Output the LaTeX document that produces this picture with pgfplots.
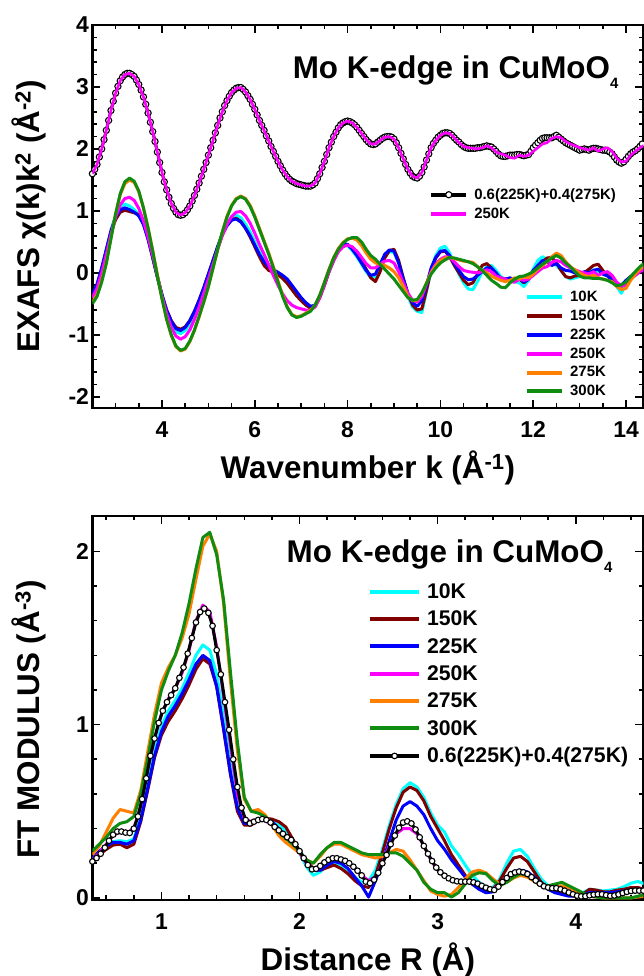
\documentclass[border=0pt]{standalone}
\usepackage{fontspec}
\setmainfont{Liberation Sans}
\usepackage{pgfplots}
\usepackage{pgfplotstable}
\pgfplotsset{compat=1.18}

\definecolor{cCyan}{HTML}{00FFFF}
\definecolor{cBrown}{HTML}{800000}
\definecolor{cBlue}{HTML}{0000FF}
\definecolor{cMag}{HTML}{FF00FF}
\definecolor{cOrange}{HTML}{FF8000}
\definecolor{cGreen}{HTML}{108C10}

\newcommand{\fs}[1]{\fontsize{#1}{#1}\selectfont\bfseries}
\newcommand{\sub}[1]{\raisebox{-10bp}{\fontsize{15}{15}\selectfont #1}}

% chi(k)k^2 ; u250 is the 250K curve shifted by +2
\pgfplotstableread{
k t10 t150 t225 t250 t275 t300 u250
2.5 -0.40 -0.38 -0.35 -0.40 -0.47 -0.50 1.60
2.6 -0.22 -0.20 -0.18 -0.25 -0.35 -0.38 1.75
2.7 0.05 0.06 0.08 0.00 -0.12 -0.15 2.00
2.8 0.36 0.36 0.38 0.30 0.18 0.15 2.30
2.9 0.68 0.65 0.68 0.62 0.57 0.55 2.62
3.0 0.93 0.86 0.90 0.90 0.95 0.95 2.90
3.1 1.07 0.98 1.02 1.10 1.26 1.28 3.10
3.2 1.11 1.01 1.05 1.20 1.44 1.47 3.20
3.3 1.08 0.99 1.02 1.22 1.50 1.53 3.22
3.4 1.02 0.97 0.98 1.17 1.46 1.48 3.17
3.5 0.94 0.94 0.92 1.04 1.31 1.32 3.04
3.6 0.80 0.80 0.78 0.84 1.05 1.05 2.84
3.7 0.56 0.55 0.54 0.58 0.73 0.72 2.58
3.8 0.26 0.24 0.25 0.28 0.36 0.35 2.28
3.9 -0.06 -0.07 -0.06 -0.05 -0.03 -0.05 1.95
4.0 -0.37 -0.36 -0.35 -0.38 -0.41 -0.42 1.62
4.1 -0.64 -0.60 -0.60 -0.66 -0.75 -0.75 1.34
4.2 -0.83 -0.77 -0.78 -0.88 -1.01 -1.00 1.12
4.3 -0.95 -0.88 -0.90 -1.02 -1.19 -1.18 0.98
4.4 -0.98 -0.91 -0.93 -1.07 -1.26 -1.25 0.93
4.5 -0.93 -0.87 -0.88 -1.03 -1.23 -1.22 0.97
4.6 -0.82 -0.77 -0.77 -0.92 -1.11 -1.10 1.08
4.7 -0.66 -0.62 -0.62 -0.75 -0.93 -0.92 1.25
4.8 -0.47 -0.44 -0.44 -0.55 -0.71 -0.70 1.45
4.9 -0.26 -0.24 -0.24 -0.33 -0.47 -0.47 1.67
5.0 -0.03 -0.02 -0.02 -0.10 -0.22 -0.22 1.90
5.1 0.20 0.20 0.20 0.14 0.08 0.08 2.14
5.2 0.43 0.42 0.42 0.38 0.38 0.38 2.38
5.3 0.64 0.62 0.62 0.60 0.66 0.66 2.60
5.4 0.80 0.77 0.76 0.78 0.91 0.90 2.78
5.5 0.90 0.86 0.85 0.91 1.09 1.08 2.91
5.6 0.93 0.88 0.87 0.98 1.20 1.19 2.98
5.7 0.89 0.83 0.82 0.99 1.24 1.23 2.99
5.8 0.79 0.72 0.72 0.92 1.20 1.19 2.92
5.9 0.66 0.58 0.60 0.80 1.09 1.07 2.80
6.0 0.50 0.42 0.45 0.64 0.92 0.90 2.64
6.1 0.34 0.26 0.30 0.46 0.72 0.70 2.46
6.2 0.20 0.12 0.18 0.30 0.52 0.50 2.30
6.3 0.10 0.04 0.10 0.13 0.32 0.30 2.13
6.4 0.04 0.01 0.05 -0.04 0.10 0.08 1.96
6.5 -0.02 -0.03 0.01 -0.20 -0.13 -0.15 1.80
6.6 -0.08 -0.09 -0.04 -0.34 -0.36 -0.38 1.66
6.7 -0.16 -0.17 -0.10 -0.45 -0.55 -0.56 1.55
6.8 -0.26 -0.27 -0.20 -0.52 -0.67 -0.68 1.48
6.9 -0.36 -0.37 -0.30 -0.56 -0.71 -0.72 1.44
7.0 -0.44 -0.45 -0.40 -0.58 -0.69 -0.70 1.42
7.1 -0.51 -0.52 -0.48 -0.60 -0.65 -0.66 1.40
7.2 -0.56 -0.57 -0.54 -0.60 -0.60 -0.62 1.40
7.3 -0.52 -0.54 -0.52 -0.55 -0.52 -0.52 1.45
7.4 -0.38 -0.40 -0.38 -0.40 -0.36 -0.36 1.60
7.5 -0.18 -0.20 -0.18 -0.20 -0.15 -0.16 1.80
7.6 0.04 0.02 0.04 0.02 0.06 0.05 2.02
7.7 0.22 0.20 0.22 0.20 0.25 0.24 2.20
7.8 0.37 0.36 0.38 0.34 0.39 0.38 2.34
7.9 0.45 0.45 0.47 0.42 0.49 0.48 2.42
8.0 0.44 0.45 0.46 0.45 0.55 0.54 2.45
8.1 0.36 0.40 0.38 0.42 0.56 0.57 2.42
8.2 0.26 0.32 0.28 0.35 0.53 0.57 2.35
8.3 0.14 0.20 0.16 0.25 0.44 0.50 2.25
8.4 0.02 0.06 0.04 0.15 0.32 0.38 2.15
8.5 -0.08 -0.08 -0.04 0.08 0.22 0.28 2.08
8.6 -0.06 -0.14 -0.02 0.08 0.16 0.22 2.08
8.7 0.10 0.02 0.14 0.14 0.14 0.14 2.14
8.8 0.26 0.24 0.30 0.19 0.12 0.06 2.19
8.9 0.34 0.36 0.37 0.20 0.08 -0.02 2.20
9.0 0.33 0.38 0.35 0.16 0.02 -0.10 2.16
9.1 0.16 0.20 0.16 0.02 -0.08 -0.20 2.02
9.2 -0.12 -0.08 -0.10 -0.16 -0.22 -0.30 1.84
9.3 -0.38 -0.34 -0.33 -0.33 -0.38 -0.40 1.67
9.4 -0.55 -0.52 -0.48 -0.44 -0.45 -0.44 1.56
9.5 -0.62 -0.60 -0.54 -0.47 -0.44 -0.43 1.53
9.6 -0.64 -0.58 -0.45 -0.38 -0.33 -0.32 1.62
9.7 -0.30 -0.28 -0.20 -0.18 -0.16 -0.17 1.82
9.8 0.05 0.04 0.08 0.02 0.00 -0.02 2.02
9.9 0.28 0.24 0.25 0.14 0.12 0.08 2.14
10.0 0.40 0.34 0.35 0.22 0.20 0.16 2.22
10.1 0.43 0.35 0.36 0.26 0.24 0.21 2.26
10.2 0.32 0.26 0.28 0.25 0.25 0.25 2.25
10.3 0.14 0.12 0.15 0.18 0.23 0.24 2.18
10.4 -0.02 0.00 0.04 0.10 0.21 0.22 2.10
10.5 -0.16 -0.12 -0.06 0.04 0.19 0.20 2.04
10.6 -0.26 -0.19 -0.11 0.02 0.18 0.18 2.02
10.7 -0.27 -0.16 -0.10 0.01 0.17 0.15 2.01
10.8 -0.14 -0.02 -0.04 0.00 0.10 0.10 2.00
10.9 0.02 0.12 0.02 0.02 0.04 0.04 2.02
11.0 0.10 0.15 0.08 0.05 0.00 -0.04 2.05
11.1 0.12 0.08 0.08 0.02 -0.05 -0.12 2.02
11.2 0.04 -0.02 0.00 -0.05 -0.09 -0.17 1.95
11.3 -0.06 -0.08 -0.10 -0.08 -0.12 -0.23 1.92
11.4 -0.10 -0.10 -0.10 -0.10 -0.14 -0.24 1.90
11.5 -0.12 -0.12 -0.08 -0.14 -0.12 -0.16 1.86
11.6 -0.14 -0.14 -0.12 -0.15 -0.08 -0.10 1.85
11.7 -0.16 -0.10 -0.08 -0.10 -0.10 -0.06 1.90
11.8 -0.22 -0.16 -0.15 -0.12 -0.06 -0.05 1.88
11.9 -0.12 -0.10 -0.10 -0.10 -0.08 -0.02 1.90
12.0 0.06 0.02 0.04 -0.04 -0.02 0.02 1.96
12.1 0.20 0.10 0.12 0.02 0.06 0.08 2.02
12.2 0.26 0.18 0.20 0.08 0.12 0.14 2.08
12.3 0.22 0.24 0.18 0.10 0.18 0.19 2.10
12.4 0.16 0.25 0.12 0.17 0.26 0.24 2.17
12.5 0.12 0.16 0.15 0.20 0.32 0.28 2.20
12.6 0.04 0.04 0.08 0.18 0.28 0.24 2.18
12.7 -0.06 -0.06 0.04 0.12 0.18 0.16 2.12
12.8 -0.10 -0.08 0.03 0.08 0.10 0.10 2.08
12.9 -0.08 -0.05 0.00 0.05 0.05 0.02 2.05
13.0 -0.06 -0.04 -0.03 0.02 0.00 -0.05 2.02
13.1 -0.02 0.00 0.02 0.00 -0.04 -0.08 2.00
13.2 0.02 0.06 0.00 -0.02 -0.06 -0.08 1.98
13.3 0.05 0.12 0.04 0.02 -0.04 -0.09 2.02
13.4 0.02 0.14 0.06 -0.04 -0.08 -0.09 1.96
13.5 0.00 0.04 -0.02 0.00 -0.10 -0.10 2.00
13.6 -0.04 -0.04 -0.05 0.02 -0.12 -0.12 2.02
13.7 -0.10 -0.10 -0.12 -0.04 -0.14 -0.16 1.96
13.8 -0.22 -0.18 -0.19 -0.15 -0.22 -0.21 1.85
13.9 -0.33 -0.22 -0.20 -0.21 -0.27 -0.19 1.79
14.0 -0.18 -0.14 -0.12 -0.20 -0.25 -0.15 1.80
14.1 -0.08 -0.06 -0.06 -0.10 -0.12 -0.06 1.90
14.2 -0.04 0.00 -0.03 -0.04 -0.02 0.02 1.96
14.3 0.04 0.06 0.02 0.02 0.06 0.10 2.02
14.4 0.10 0.10 0.10 0.06 0.12 0.16 2.06
}\kdata

% 0.6(225K)+0.4(275K), shifted by +2, finer k grid
\pgfplotstableread{
k umix
2.50 1.60
2.55 1.67
2.60 1.75
2.65 1.87
2.70 2.00
2.75 2.15
2.80 2.30
2.85 2.46
2.90 2.62
2.95 2.77
3.00 2.90
3.05 3.01
3.10 3.10
3.15 3.16
3.20 3.20
3.25 3.22
3.30 3.22
3.35 3.20
3.40 3.17
3.45 3.11
3.50 3.04
3.55 2.95
3.60 2.84
3.65 2.72
3.70 2.58
3.75 2.43
3.80 2.28
3.85 2.12
3.90 1.95
3.95 1.78
4.00 1.62
4.05 1.47
4.10 1.34
4.15 1.22
4.20 1.12
4.25 1.04
4.30 0.98
4.35 0.94
4.40 0.93
4.45 0.94
4.50 0.97
4.55 1.02
4.60 1.08
4.65 1.16
4.70 1.25
4.75 1.35
4.80 1.45
4.85 1.56
4.90 1.67
4.95 1.78
5.00 1.90
5.05 2.02
5.10 2.14
5.15 2.26
5.20 2.38
5.25 2.50
5.30 2.60
5.35 2.70
5.40 2.78
5.45 2.85
5.50 2.91
5.55 2.95
5.60 2.98
5.65 2.99
5.70 2.99
5.75 2.96
5.80 2.92
5.85 2.86
5.90 2.80
5.95 2.72
6.00 2.64
6.05 2.55
6.10 2.46
6.15 2.38
6.20 2.30
6.25 2.21
6.30 2.13
6.35 2.04
6.40 1.96
6.45 1.88
6.50 1.80
6.55 1.73
6.60 1.66
6.65 1.60
6.70 1.55
6.75 1.51
6.80 1.48
6.85 1.46
6.90 1.44
6.95 1.43
7.00 1.42
7.05 1.41
7.10 1.40
7.15 1.40
7.20 1.40
7.25 1.42
7.30 1.45
7.35 1.52
7.40 1.60
7.45 1.70
7.50 1.80
7.55 1.91
7.60 2.02
7.65 2.11
7.70 2.20
7.75 2.27
7.80 2.34
7.85 2.39
7.90 2.42
7.95 2.44
8.00 2.45
8.05 2.44
8.10 2.42
8.15 2.39
8.20 2.35
8.25 2.30
8.30 2.25
8.35 2.20
8.40 2.15
8.45 2.11
8.50 2.08
8.55 2.07
8.60 2.08
8.65 2.11
8.70 2.14
8.75 2.17
8.80 2.19
8.85 2.20
8.90 2.20
8.95 2.19
9.00 2.16
9.05 2.10
9.10 2.02
9.15 1.93
9.20 1.84
9.25 1.75
9.30 1.67
9.35 1.61
9.40 1.56
9.45 1.54
9.50 1.53
9.55 1.56
9.60 1.62
9.65 1.71
9.70 1.82
9.75 1.92
9.80 2.02
9.85 2.09
9.90 2.14
9.95 2.19
10.00 2.22
10.05 2.25
10.10 2.26
10.15 2.26
10.20 2.25
10.25 2.22
10.30 2.18
10.35 2.14
10.40 2.11
10.45 2.07
10.50 2.04
10.55 2.02
10.60 2.01
10.65 2.01
10.70 2.01
10.75 2.01
10.80 2.02
10.85 2.02
10.90 2.03
10.95 2.04
11.00 2.05
11.05 2.04
11.10 2.03
11.15 2.00
11.20 1.96
11.25 1.92
11.30 1.89
11.35 1.88
11.40 1.88
11.45 1.89
11.50 1.90
11.55 1.90
11.60 1.90
11.65 1.91
11.70 1.91
11.75 1.90
11.80 1.89
11.85 1.90
11.90 1.91
11.95 1.96
12.00 2.02
12.05 2.06
12.10 2.10
12.15 2.14
12.20 2.17
12.25 2.18
12.30 2.18
12.35 2.18
12.40 2.18
12.45 2.20
12.50 2.22
12.55 2.19
12.60 2.16
12.65 2.13
12.70 2.10
12.75 2.08
12.80 2.06
12.85 2.04
12.90 2.02
12.95 2.00
13.00 1.98
13.05 1.99
13.10 2.00
13.15 1.99
13.20 1.98
13.25 2.00
13.30 2.01
13.35 2.01
13.40 2.00
13.45 1.99
13.50 1.98
13.55 1.98
13.60 1.97
13.65 1.95
13.70 1.92
13.75 1.87
13.80 1.82
13.85 1.79
13.90 1.77
13.95 1.79
14.00 1.83
14.05 1.88
14.10 1.92
14.15 1.95
14.20 1.97
14.25 2.00
14.30 2.04
14.35 2.08
14.40 2.11
}\kmix

% FT modulus
\pgfplotstableread{
R t10 t150 t225 t250 t275 t300
0.50 0.22 0.22 0.23 0.22 0.25 0.27
0.55 0.26 0.25 0.27 0.26 0.30 0.31
0.60 0.30 0.28 0.30 0.31 0.38 0.35
0.65 0.325 0.305 0.32 0.36 0.46 0.40
0.70 0.33 0.31 0.32 0.38 0.51 0.43
0.75 0.325 0.29 0.31 0.375 0.50 0.44
0.80 0.34 0.31 0.33 0.40 0.49 0.47
0.85 0.47 0.44 0.45 0.53 0.62 0.60
0.90 0.66 0.62 0.63 0.74 0.84 0.80
0.95 0.85 0.81 0.82 0.92 1.06 1.02
1.00 0.99 0.94 0.96 1.06 1.24 1.20
1.05 1.08 1.02 1.05 1.15 1.33 1.31
1.10 1.14 1.08 1.11 1.21 1.40 1.40
1.15 1.21 1.15 1.18 1.30 1.50 1.53
1.20 1.30 1.23 1.26 1.43 1.64 1.70
1.25 1.40 1.32 1.35 1.60 1.84 1.90
1.30 1.46 1.38 1.40 1.69 2.03 2.08
1.35 1.43 1.35 1.37 1.65 2.10 2.11
1.40 1.29 1.22 1.22 1.45 2.00 1.98
1.45 1.04 0.97 0.98 1.16 1.70 1.72
1.50 0.76 0.71 0.72 0.88 1.25 1.30
1.55 0.54 0.50 0.52 0.60 0.85 0.90
1.60 0.44 0.42 0.43 0.46 0.57 0.58
1.65 0.43 0.42 0.43 0.44 0.50 0.50
1.70 0.45 0.45 0.45 0.455 0.51 0.49
1.75 0.46 0.46 0.46 0.45 0.48 0.47
1.80 0.44 0.455 0.44 0.42 0.42 0.43
1.85 0.42 0.44 0.40 0.39 0.36 0.38
1.90 0.39 0.41 0.36 0.355 0.32 0.345
1.95 0.33 0.34 0.32 0.32 0.29 0.31
2.00 0.26 0.27 0.27 0.26 0.26 0.27
2.05 0.18 0.21 0.21 0.20 0.22 0.22
2.10 0.13 0.17 0.16 0.16 0.20 0.20
2.15 0.15 0.16 0.16 0.18 0.24 0.25
2.20 0.19 0.175 0.19 0.22 0.29 0.29
2.25 0.20 0.19 0.21 0.23 0.31 0.32
2.30 0.19 0.17 0.20 0.22 0.31 0.32
2.35 0.16 0.14 0.17 0.20 0.29 0.30
2.40 0.12 0.10 0.12 0.17 0.27 0.28
2.45 0.09 0.07 0.07 0.13 0.25 0.26
2.50 0.10 0.06 0.005 0.10 0.24 0.25
2.55 0.16 0.13 0.10 0.12 0.23 0.25
2.60 0.28 0.26 0.20 0.20 0.24 0.25
2.65 0.42 0.40 0.33 0.30 0.26 0.26
2.70 0.54 0.52 0.45 0.37 0.28 0.26
2.75 0.63 0.61 0.53 0.40 0.27 0.24
2.80 0.665 0.64 0.556 0.40 0.22 0.20
2.85 0.64 0.62 0.53 0.37 0.16 0.16
2.90 0.58 0.56 0.48 0.30 0.10 0.09
2.95 0.49 0.47 0.40 0.22 0.04 0.05
3.00 0.42 0.40 0.33 0.16 0.02 0.03
3.05 0.38 0.33 0.28 0.13 0.01 0.03
3.10 0.30 0.25 0.22 0.10 0.02 0.005
3.15 0.25 0.19 0.17 0.095 0.06 0.03
3.20 0.19 0.13 0.12 0.095 0.11 0.08
3.25 0.13 0.08 0.08 0.09 0.15 0.13
3.30 0.09 0.055 0.05 0.08 0.16 0.145
3.35 0.06 0.04 0.03 0.06 0.145 0.14
3.40 0.06 0.05 0.035 0.05 0.11 0.10
3.45 0.11 0.10 0.07 0.08 0.08 0.07
3.50 0.20 0.17 0.12 0.12 0.09 0.09
3.55 0.27 0.23 0.15 0.145 0.115 0.12
3.60 0.28 0.24 0.16 0.15 0.13 0.14
3.65 0.24 0.21 0.15 0.14 0.12 0.13
3.70 0.17 0.15 0.12 0.11 0.095 0.10
3.75 0.11 0.09 0.08 0.075 0.07 0.07
3.80 0.07 0.06 0.05 0.06 0.06 0.07
3.85 0.04 0.04 0.03 0.055 0.065 0.08
3.90 0.03 0.03 0.02 0.05 0.07 0.09
3.95 0.02 0.02 0.01 0.035 0.06 0.07
4.00 0.02 0.01 0.01 0.015 0.04 0.05
4.05 0.03 0.02 0.02 0.01 0.02 0.03
4.10 0.05 0.05 0.03 0.015 0.01 0.01
4.15 0.045 0.045 0.03 0.02 0.005 0.005
4.20 0.04 0.035 0.03 0.02 0.00 0.00
4.25 0.045 0.035 0.03 0.012 0.00 0.00
4.30 0.05 0.045 0.035 0.015 0.00 0.00
4.35 0.065 0.05 0.04 0.03 0.00 0.00
4.40 0.085 0.06 0.045 0.04 0.00 0.00
4.45 0.095 0.06 0.05 0.042 0.005 0.01
4.50 0.08 0.05 0.05 0.042 0.01 0.02
}\rdata

\pgfplotstableread{
R mix
0.50 0.21
0.53 0.23
0.56 0.255
0.59 0.29
0.62 0.33
0.65 0.365
0.68 0.383
0.71 0.383
0.74 0.377
0.77 0.375
0.80 0.40
0.83 0.47
0.86 0.57
0.89 0.69
0.92 0.82
0.95 0.92
0.98 1.01
1.01 1.08
1.04 1.13
1.07 1.17
1.10 1.21
1.13 1.27
1.16 1.33
1.19 1.41
1.22 1.50
1.25 1.59
1.28 1.65
1.31 1.67
1.34 1.645
1.37 1.57
1.40 1.43
1.43 1.29
1.46 1.13
1.49 0.97
1.52 0.80
1.55 0.64
1.58 0.52
1.61 0.45
1.64 0.43
1.67 0.44
1.70 0.45
1.73 0.455
1.76 0.45
1.79 0.435
1.82 0.41
1.85 0.39
1.88 0.37
1.91 0.35
1.94 0.335
1.97 0.31
2.00 0.27
2.03 0.23
2.06 0.19
2.09 0.165
2.12 0.168
2.15 0.185
2.18 0.205
2.21 0.22
2.24 0.229
2.27 0.229
2.30 0.222
2.33 0.214
2.36 0.20
2.39 0.18
2.42 0.157
2.45 0.13
2.48 0.094
2.51 0.085
2.54 0.105
2.57 0.145
2.60 0.20
2.63 0.248
2.66 0.31
2.69 0.36
2.72 0.405
2.75 0.435
2.78 0.442
2.81 0.43
2.84 0.395
2.87 0.35
2.90 0.30
2.93 0.255
2.96 0.213
2.99 0.175
3.02 0.148
3.05 0.128
3.08 0.113
3.11 0.102
3.14 0.096
3.17 0.094
3.20 0.094
3.23 0.094
3.26 0.09
3.29 0.082
3.32 0.07
3.35 0.059
3.38 0.05
3.41 0.046
3.44 0.065
3.47 0.092
3.50 0.115
3.53 0.137
3.56 0.147
3.59 0.152
3.62 0.148
3.65 0.138
3.68 0.12
3.71 0.10
3.74 0.082
3.77 0.067
3.80 0.06
3.83 0.056
3.86 0.056
3.89 0.05
3.92 0.042
3.95 0.031
3.98 0.021
4.01 0.013
4.04 0.009
4.07 0.01
4.10 0.015
4.13 0.019
4.16 0.021
4.19 0.021
4.22 0.016
4.25 0.012
4.28 0.014
4.31 0.02
4.34 0.028
4.37 0.035
4.40 0.04
4.43 0.042
4.46 0.042
4.49 0.042
}\rmix

\pgfplotsset{
  panel/.style={
    scale only axis,
    width=551bp,
    axis line style={line width=2.2bp},
    major tick length=8bp,
    minor tick length=4.5bp,
    tick style={line width=1.6bp, black},
    tick label style={font=\fs{23}},
    xticklabel style={yshift=-10bp},
    label style={font=\fs{31.5}},
    legend cell align=left,
  },
  curve/.style={line width=3bp, line join=round},
  mixcurve/.style={black, line width=3bp, mark=*, mark size=3.1bp,
    mark options={fill=white, draw=black, line width=1.1bp}},
}

\begin{document}
\begin{tikzpicture}
\path[use as bounding box] (0,0) rectangle (644bp,976bp);

% ---------- top panel: k-space ----------
\begin{axis}[panel,
  at={(92.4bp,568bp)}, anchor=south west, height=383bp,
  xmin=2.5, xmax=14.375, ymin=-2.18, ymax=4,
  xtick={4,6,8,10,12,14}, xticklabels={4,6,8,10,12,14},
  minor xtick={3,3.5,4.5,5,5.5,6.5,7,7.5,8.5,9,9.5,10.5,11,11.5,12.5,13,13.5},
  ytick={-2,-1,0,1,2,3,4}, yticklabels={-2,-1,0,1,2,3,4},
  minor ytick={-1.8,-1.6,-1.4,-1.2,-0.8,-0.6,-0.4,-0.2,0.2,0.4,0.6,0.8,1.2,1.4,1.6,1.8,2.2,2.4,2.6,2.8,3.2,3.4,3.6,3.8},
  xlabel={Wavenumber k (Å\textsuperscript{-1})},
  ylabel={EXAFS χ(k)k\textsuperscript{2} (Å\textsuperscript{-2})},
  xlabel style={at={(axis description cs:0.5,-0.157)}, anchor=center},
  ylabel style={at={(axis description cs:-0.115,0.5)}, anchor=center},
  legend image code/.code={\draw[#1, line width=4bp] (0bp,0bp) -- (35bp,0bp);},
  legend style={at={(axis description cs:0.785,0.309)}, anchor=north west,
    draw=none, fill=none, inner sep=0pt, font=\fs{15}, row sep=5bp,
    nodes={inner sep=1bp},
    /tikz/every odd column/.append style={column sep=5bp}},
]
\addplot[curve, cCyan] table[x=k, y=t10] {\kdata};
\addplot[curve, cBrown] table[x=k, y=t150] {\kdata};
\addplot[curve, cBlue] table[x=k, y=t225] {\kdata};
\addplot[curve, cMag] table[x=k, y=t250] {\kdata};
\addplot[curve, cOrange] table[x=k, y=t275] {\kdata};
\addplot[curve, cGreen] table[x=k, y=t300] {\kdata};
\legend{10K,150K,225K,250K,275K,300K}
\node[anchor=base east, font=\fs{31.5}] at (axis description cs:0.961,0.860) {Mo K-edge in CuMoO\sub{4}};
\end{axis}

\begin{axis}[panel, hide axis, clip mode=individual,
  at={(92.4bp,568bp)}, anchor=south west, height=383bp,
  xmin=2.5, xmax=14.375, ymin=-2.18, ymax=4,
  legend image code/.code={\draw[mark repeat=2,mark phase=2,#1,line width=4bp] plot coordinates {(0bp,0bp) (17.5bp,0bp) (35bp,0bp)};},
  legend style={at={(axis description cs:0.611,0.576)}, anchor=north west,
    draw=none, fill=none, inner sep=0pt, font=\fs{15}, row sep=5bp,
    nodes={inner sep=1bp},
    /tikz/every odd column/.append style={column sep=5bp}},
]
\addplot[mixcurve] table[x=k, y=umix] {\kmix};
\addplot[cMag, line width=2.6bp, line join=round] table[x=k, y=u250] {\kdata};
\legend{0.6(225K)+0.4(275K),250K}
\end{axis}

% ---------- bottom panel: R-space ----------
\begin{axis}[panel,
  at={(92.4bp,76bp)}, anchor=south west, height=384bp,
  xmin=0.5, xmax=4.49, ymin=-0.012, ymax=2.204,
  xtick={1,2,3,4}, xticklabels={1,2,3,4},
  minor xtick={0.6,0.8,1.2,1.4,1.6,1.8,2.2,2.4,2.6,2.8,3.2,3.4,3.6,3.8,4.2,4.4},
  ytick={0,1,2}, yticklabels={0,1,2},
  minor ytick={0.2,0.4,0.6,0.8,1.2,1.4,1.6,1.8},
  xlabel={Distance R (Å)},
  ylabel={FT MODULUS (Å\textsuperscript{-3})},
  xlabel style={at={(axis description cs:0.5,-0.155)}, anchor=center},
  ylabel style={at={(axis description cs:-0.115,0.47)}, anchor=center},
  legend image code/.code={\draw[mark repeat=2,mark phase=2,#1,line width=4bp] plot coordinates {(0bp,0bp) (24.5bp,0bp) (49bp,0bp)};},
  legend style={at={(axis description cs:0.5,0.827)}, anchor=north west,
    draw=none, fill=none, inner sep=0pt, font=\fs{21.3}, row sep=9bp,
    nodes={inner sep=1bp},
    /tikz/every odd column/.append style={column sep=5bp}},
]
\addplot[curve, cCyan] table[x=R, y=t10] {\rdata};
\addplot[curve, cBrown] table[x=R, y=t150] {\rdata};
\addplot[curve, cBlue] table[x=R, y=t225] {\rdata};
\addplot[curve, cMag] table[x=R, y=t250] {\rdata};
\addplot[curve, cOrange] table[x=R, y=t275] {\rdata};
\addplot[curve, cGreen] table[x=R, y=t300] {\rdata};
\addplot[mixcurve, mark size=2.8bp] table[x=R, y=mix] {\rmix};
\legend{10K,150K,225K,250K,275K,300K,0.6(225K)+0.4(275K)}
\node[anchor=base east, font=\fs{31.5}] at (axis description cs:0.950,0.878) {Mo K-edge in CuMoO\sub{4}};
\end{axis}
\end{tikzpicture}
\end{document}
